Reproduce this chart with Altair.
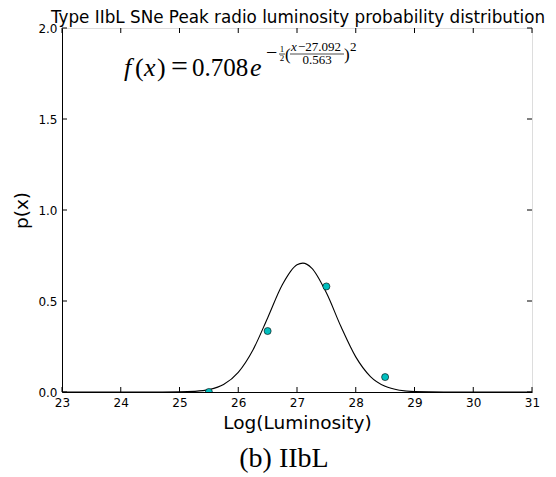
import altair as alt
import pandas as pd

# ---- data ----
curve_x = [23.0, 24.0, 24.5, 25.0, 25.25, 25.5, 25.75, 26.0, 26.25, 26.5, 26.75,
           27.0, 27.1, 27.25, 27.5, 27.75, 28.0, 28.25, 28.5, 28.75, 29.0, 29.5, 30.0, 31.0]
curve_y = [0.0, 0.0, 0.0, 0.0007, 0.0034, 0.013, 0.041, 0.108, 0.231, 0.407, 0.589,
           0.699, 0.708, 0.681, 0.545, 0.358, 0.193, 0.085, 0.031, 0.0093, 0.0023, 0.0001, 0.0, 0.0]
point_x = [25.5, 26.5, 27.5, 28.5]
point_y = [0.0, 0.335, 0.58, 0.082]
x_ticks = [23, 24, 25, 26, 27, 28, 29, 30, 31]
y_ticks = [0.0, 0.5, 1.0, 1.5, 2.0]
title_text = "Type IIbL SNe Peak radio luminosity probability distribution"
caption_text = "(b) IIbL"

W, H = 470, 364
SANS = "DejaVu Sans"
SERIF = "Liberation Serif"

curve_df = pd.DataFrame({"x": curve_x, "y": curve_y})
pts_df = pd.DataFrame({"x": point_x, "y": point_y})
xt_df = pd.DataFrame({"x": x_ticks})
yt_df = pd.DataFrame({"y": y_ticks})

xscale = alt.Scale(domain=[23, 31], nice=False, zero=False)
yscale = alt.Scale(domain=[0, 2], nice=False)

xaxis = alt.Axis(values=x_ticks, format="d", title="Log(Luminosity)", grid=False,
                 tickSize=0, labelPadding=5, titlePadding=5, labelFont=SANS,
                 labelFontSize=12, titleFont=SANS, titleFontSize=18.5,
                 titleFontWeight="normal", labelColor="black", titleColor="black",
                 domainColor="black", labelFlush=False)
yaxis = alt.Axis(values=y_ticks, format=".1f", title="p(x)", grid=False,
                 tickSize=0, labelPadding=5, titlePadding=6, labelFont=SANS,
                 labelFontSize=12, titleFont=SANS, titleFontSize=18.5,
                 titleFontWeight="normal", labelColor="black", titleColor="black",
                 domainColor="black", labelFlush=False)

curve = alt.Chart(curve_df).mark_line(color="black", strokeWidth=1.1,
                                      interpolate="monotone", clip=True).encode(
    x=alt.X("x:Q", scale=xscale, axis=xaxis),
    y=alt.Y("y:Q", scale=yscale, axis=yaxis),
)

pts = alt.Chart(pts_df).mark_point(filled=True, size=50, fill="#00bfbf",
                                   stroke="black", strokeWidth=0.6, opacity=1,
                                   clip=True).encode(
    x=alt.X("x:Q", scale=xscale),
    y=alt.Y("y:Q", scale=yscale),
)

TL = 5
tick_bottom = alt.Chart(xt_df).mark_rule(color="black", strokeWidth=1).encode(
    x=alt.X("x:Q", scale=xscale), y=alt.value(H), y2=alt.value(H - TL))
tick_top = alt.Chart(xt_df).mark_rule(color="black", strokeWidth=1).encode(
    x=alt.X("x:Q", scale=xscale), y=alt.value(0), y2=alt.value(TL))
tick_left = alt.Chart(yt_df).mark_rule(color="black", strokeWidth=1).encode(
    y=alt.Y("y:Q", scale=yscale), x=alt.value(0), x2=alt.value(TL))
tick_right = alt.Chart(yt_df).mark_rule(color="black", strokeWidth=1).encode(
    y=alt.Y("y:Q", scale=yscale), x=alt.value(W), x2=alt.value(W - TL))


def txt(s, x, y, size, italic=False, font=SERIF, align="left"):
    kw = dict(font=font, fontSize=size, align=align, baseline="alphabetic",
              color="black")
    if italic:
        kw["fontStyle"] = "italic"
    return alt.Chart(pd.DataFrame({"t": [s]})).mark_text(**kw).encode(
        x=alt.value(x), y=alt.value(y), text="t:N")


def bar(x1, x2, y):
    return alt.Chart(pd.DataFrame({"t": [0]})).mark_rule(
        color="black", strokeWidth=0.7).encode(
        x=alt.value(x1), x2=alt.value(x2), y=alt.value(y))


ox, oy = 62, 28  # plot origin in page pixels
MB = 76  # main baseline
formula = [
    txt("f", 124 - ox, MB - oy, 26, italic=True),
    txt("(", 135 - ox, MB - oy, 26),
    txt("x", 144 - ox, MB - oy, 26, italic=True),
    txt(")", 157 - ox, MB - oy, 26),
    txt("=", 171 - ox, MB - oy, 30),
    txt("0.708", 192 - ox, MB - oy, 25),
    txt("e", 250 - ox, MB - oy, 26, italic=True),
    txt("\u2212", 266 - ox, 59 - oy, 20),
    txt("1", 282 - ox, 52 - oy, 9, align="center"),
    bar(279 - ox, 285 - ox, 54 - oy),
    txt("2", 282 - ox, 61 - oy, 9, align="center"),
    txt("(", 285 - ox, 60 - oy, 17),
    txt("x", 291 - ox, 51 - oy, 13, italic=True),
    txt("\u221227.092", 298 - ox, 51 - oy, 13),
    bar(290 - ox, 344 - ox, 54 - oy),
    txt("0.563", 317 - ox, 64 - oy, 13, align="center"),
    txt(")", 344 - ox, 60 - oy, 17),
    txt("2", 350 - ox, 51 - oy, 13),
]

title = txt(title_text, 298 - ox, 23 - oy, 16.8, font=SANS, align="center")
caption = txt(caption_text, 284 - ox, 467 - oy, 28, align="center")

chart = alt.layer(curve, pts, tick_bottom, tick_top, tick_left, tick_right,
                  *formula, title, caption).properties(
    width=W, height=H,
    autosize=alt.AutoSizeParams(type="none"),
    padding={"left": 62, "top": 28, "right": 24, "bottom": 85},
).configure_view(stroke="black", strokeWidth=1).configure(background="white")

chart.save("out.html", embed_options={"renderer": "svg", "actions": False})
